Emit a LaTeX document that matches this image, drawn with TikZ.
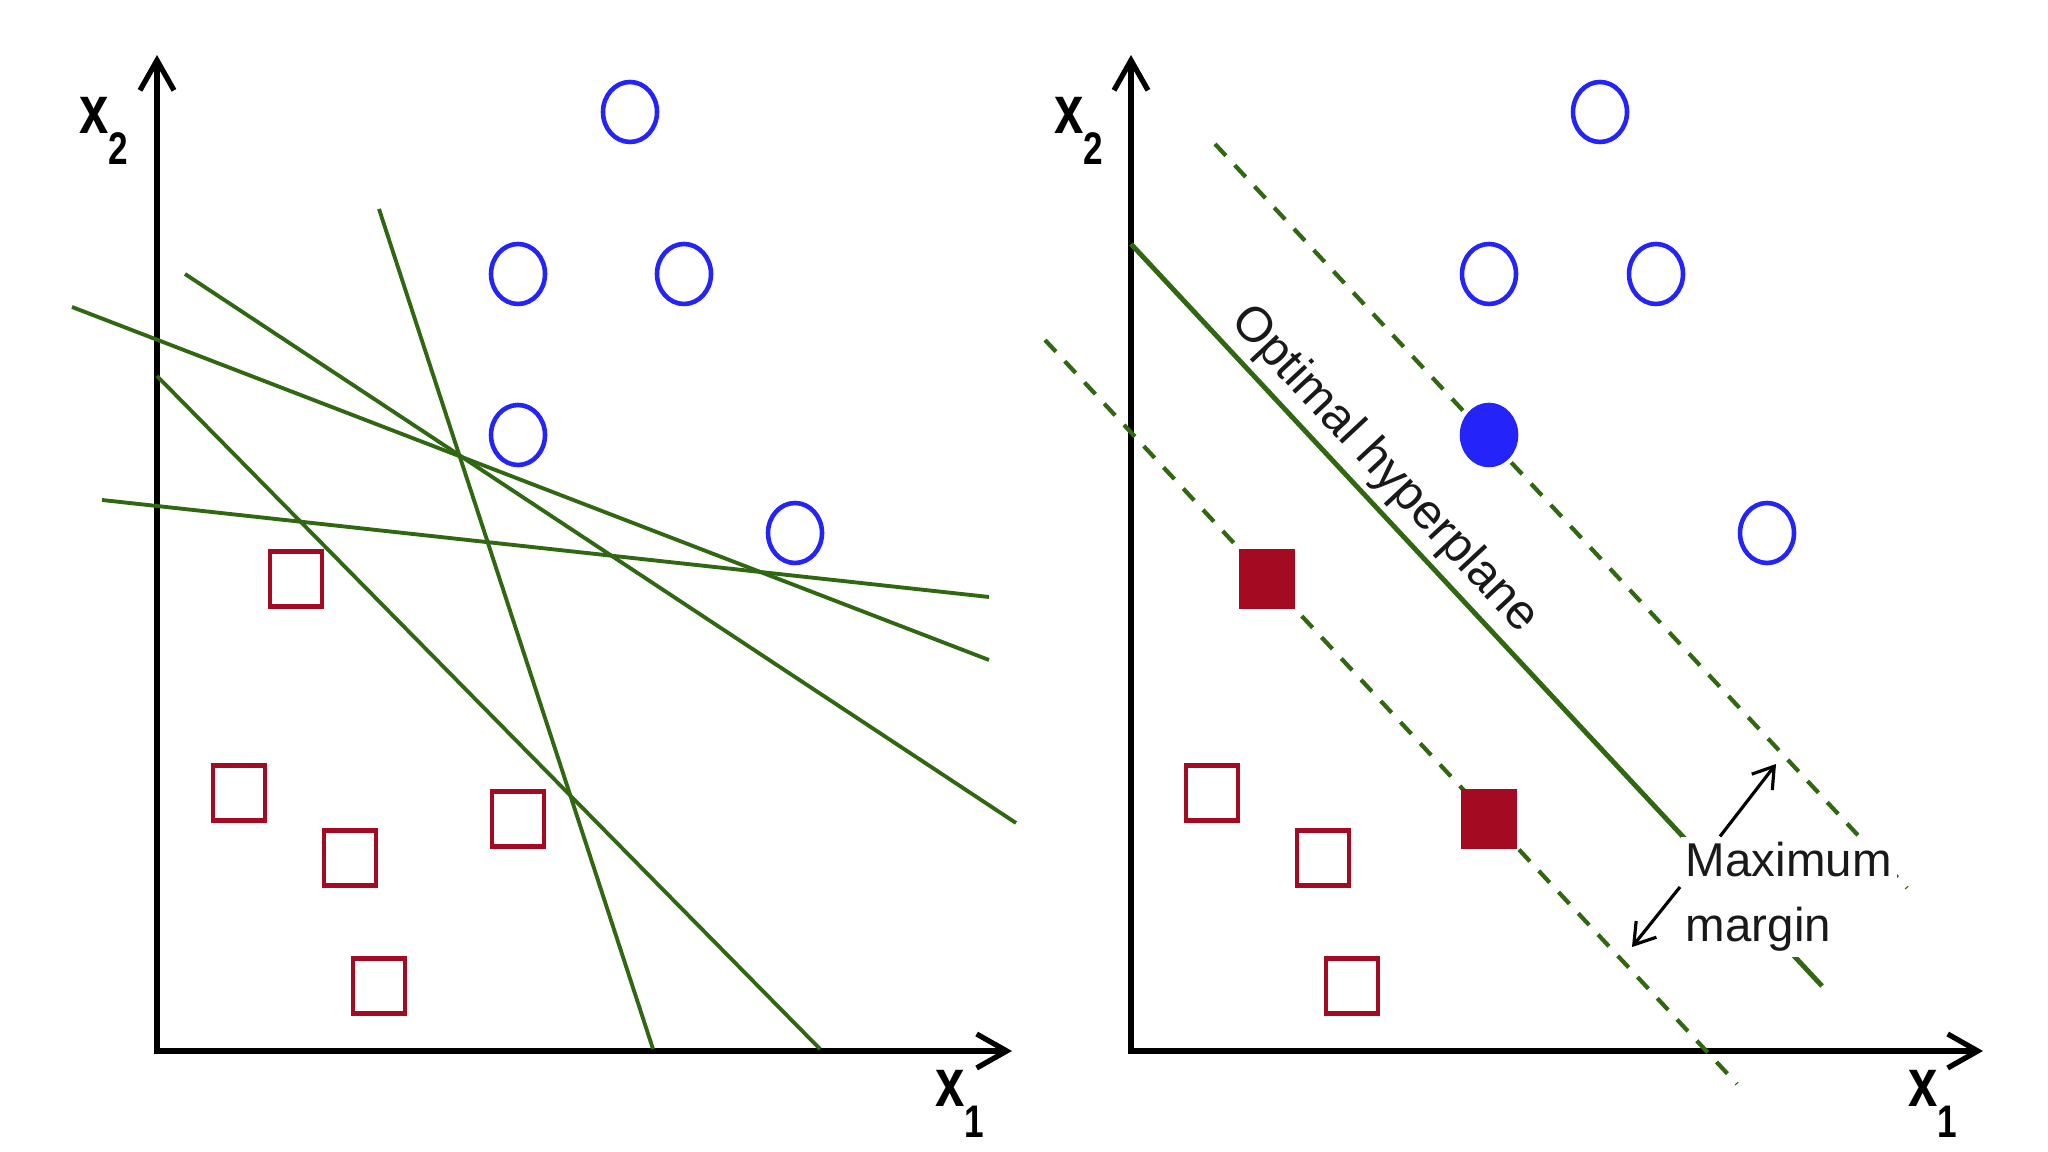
\documentclass[tikz,border=0pt]{standalone}
\usepackage{fontspec}
\setmainfont{Liberation Sans}
\usetikzlibrary{arrows.meta,shapes.geometric}
\definecolor{sepgreen}{RGB}{48,104,18}
\definecolor{posblue}{RGB}{35,35,250}
\definecolor{negred}{RGB}{165,10,35}
\newcommand{\axlab}[1]{\scalebox{1}[1.3]{\fontsize{15}{18}\selectfont\bfseries x\raisebox{-.45em}{\fontsize{10}{10}\selectfont #1}}}

\begin{document}
\begin{tikzpicture}[x=0.1mm, y=-0.1mm,
  axis/.style={line width=1.5pt, {Straight Barb[length=3mm,width=3.4mm]}-{Straight Barb[length=3mm,width=3.4mm]}},
  sep/.style={sepgreen, line width=1.1pt},
  marg/.style={sepgreen, line width=1.2pt, dash pattern=on 1.6mm off 1.3mm},
  pospt/.style={draw=posblue, ellipse, line width=1.3pt, minimum width=5.4mm,
              minimum height=6mm, inner sep=0pt},
  possv/.style={pospt, fill=posblue},
  negpt/.style={draw=negred, rectangle, line width=1.3pt, minimum width=5.2mm,
              minimum height=5.5mm, inner sep=0pt},
  negsv/.style={negpt, fill=negred},
  lbl/.style={font=\fontsize{14}{18.5}\selectfont, text=black!90, inner sep=0pt},
  marr/.style={-{Straight Barb[length=2mm,width=2.6mm]}, line width=0.9pt}
]
\useasboundingbox (0,0) rectangle (2048,1152);

% left panel: many separating lines
\coordinate (ly) at (157,55);
\coordinate (lo) at (157,1051);
\coordinate (lx) at (1012,1051);
\draw[axis] (ly) -- (lo) -- (lx);
\node (lx2) at (104,131) {\axlab{2}};
\node (lx1) at (960,1104) {\axlab{1}};

\draw[sep] (72,307)  -- (989,660);
\draw[sep] (185,274) -- (1016,823);
\draw[sep] (102,500) -- (989,597);
\draw[sep] (379,209) -- (653,1049);
\draw[sep] (157,376) -- (820,1049);

\node[pospt] (lc1) at (630,112) {};
\node[pospt] (lc2) at (518,274) {};
\node[pospt] (lc3) at (684,274) {};
\node[pospt] (lc4) at (518,435) {};
\node[pospt] (lc5) at (795,533) {};
\node[negpt] (ls1) at (296,579) {};
\node[negpt] (ls2) at (239,793) {};
\node[negpt] (ls3) at (350,858) {};
\node[negpt] (ls4) at (518,819) {};
\node[negpt] (ls5) at (379,986) {};

% right panel: optimal hyperplane with margin
\coordinate (ry) at (1131,55);
\coordinate (ro) at (1131,1051);
\coordinate (rx) at (1983,1051);
\draw[axis] (ry) -- (ro) -- (rx);
\node (rx2) at (1079,131) {\axlab{2}};
\node (rx1) at (1933,1104) {\axlab{1}};

\draw[sep, line width=1.4pt] (1131,244) -- (1822,986);
\draw[marg] (1215,144) -- (1907,888);
\draw[marg] (1045,340) -- (1737,1084);

\node[pospt] (rc1) at (1600,112) {};
\node[pospt] (rc2) at (1489,274) {};
\node[pospt] (rc3) at (1656,274) {};
\node[pospt] (rc4) at (1767,533) {};
\node[possv] (rsv) at (1489,435) {};
\node[negsv] (rsq1) at (1267,579) {};
\node[negsv] (rsq2) at (1489,819) {};
\node[negpt] (rs1) at (1212,793) {};
\node[negpt] (rs2) at (1323,858) {};
\node[negpt] (rs3) at (1352,986) {};

\node[lbl, rotate=-47] (opt) at (1384,470) {Optimal hyperplane};
\node[lbl, font=\fontsize{13.5}{18.5}\selectfont, align=left, anchor=west,
      fill=white, inner sep=1.5pt] (mm) at (1680,897) {Maximum\\margin};
\coordinate (mup) at (1776,764);
\coordinate (mdn) at (1632,947);
\draw[marr] ([xshift=4mm]mm.north west) -- (mup);
\draw[marr] ([yshift=1mm]mm.west) -- (mdn);
\end{tikzpicture}
\end{document}
